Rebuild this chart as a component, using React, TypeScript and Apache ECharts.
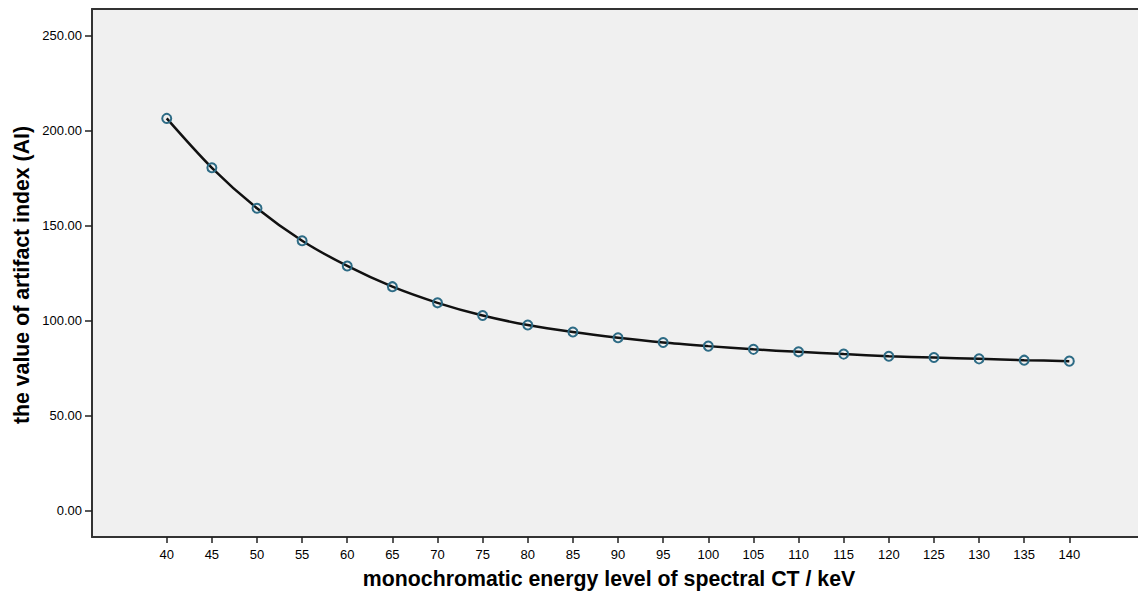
import React, { useEffect, useRef } from "react";
import * as echarts from "echarts";

const energyLevels = [40, 45, 50, 55, 60, 65, 70, 75, 80, 85, 90, 95, 100, 105, 110, 115, 120, 125, 130, 135, 140];
const artifactIndex = [206.4, 180.4, 159.1, 142.0, 128.7, 117.8, 109.3, 102.6, 97.6, 93.9, 90.9, 88.4, 86.5, 84.8, 83.5, 82.3, 81.2, 80.5, 79.8, 79.1, 78.6];
const yTicks = [0, 50, 100, 150, 200, 250];
const xTicks = energyLevels;

const xTitle = "monochromatic energy level of spectral CT / keV";
const yTitle = "the value of artifact index (AI)";

export default function App() {
  const ref = useRef<HTMLDivElement>(null);
  useEffect(() => {
    if (!ref.current) return;
    const chart = echarts.init(ref.current, undefined, { renderer: "svg" });
    const font = "'Liberation Sans', Arial, sans-serif";
    const frame = { show: true, onZero: false, lineStyle: { color: "#333333", width: 2 } };
    chart.setOption({
      animation: false,
      backgroundColor: "#ffffff",
      grid: {
        left: 92,
        top: 9,
        right: 0,
        bottom: 57,
        show: true,
        backgroundColor: "#f0f0f0",
        borderWidth: 0,
      },
      xAxis: [
        {
          type: "value",
          min: 31.72,
          max: 147.61,
          axisLine: frame,
          axisTick: { show: true, length: 6, customValues: xTicks, lineStyle: { color: "#222", width: 1.5 } },
          axisLabel: {
            customValues: xTicks,
            formatter: (v: number) => String(v),
            color: "#000",
            fontFamily: font,
            fontSize: 13,
            margin: 11,
          },
          splitLine: { show: false },
        },
        {
          type: "value",
          position: "top",
          min: 31.72,
          max: 147.61,
          axisLine: frame,
          axisTick: { show: false },
          axisLabel: { show: false },
          splitLine: { show: false },
        },
      ],
      yAxis: {
        type: "value",
        min: -14,
        max: 264,
        axisLine: frame,
        axisTick: { show: true, length: 7, customValues: yTicks, lineStyle: { color: "#222", width: 1.5 } },
        axisLabel: {
          customValues: yTicks,
          formatter: (v: number) => v.toFixed(2),
          color: "#000",
          fontFamily: font,
          fontSize: 13,
          margin: 10,
        },
        splitLine: { show: false },
      },
      graphic: [
        {
          type: "text",
          x: 609,
          y: 579,
          style: {
            text: xTitle,
            fontFamily: font,
            fontWeight: "bold",
            fontSize: 21.3,
            fill: "#000",
            textAlign: "center",
            textVerticalAlign: "middle",
          },
        },
        {
          type: "text",
          x: 22,
          y: 275,
          rotation: Math.PI / 2,
          style: {
            text: yTitle,
            fontFamily: font,
            fontWeight: "bold",
            fontSize: 21.3,
            fill: "#000",
            textAlign: "center",
            textVerticalAlign: "middle",
          },
        },
      ],
      series: [
        {
          type: "line",
          xAxisIndex: 0,
          data: energyLevels.map((x, i) => [x, artifactIndex[i]]),
          smooth: 0.3,
          symbol: "circle",
          symbolSize: 9,
          itemStyle: { color: "rgba(0,0,0,0)", borderColor: "#2d6b85", borderWidth: 2 },
          lineStyle: { color: "#111", width: 2.5 },
          z: 3,
        },
      ],
    });
    return () => chart.dispose();
  }, []);
  return (
    <div
      ref={ref}
      style={{ position: "fixed", left: 0, top: 0, width: 1138, height: 594 }}
    />
  );
}
